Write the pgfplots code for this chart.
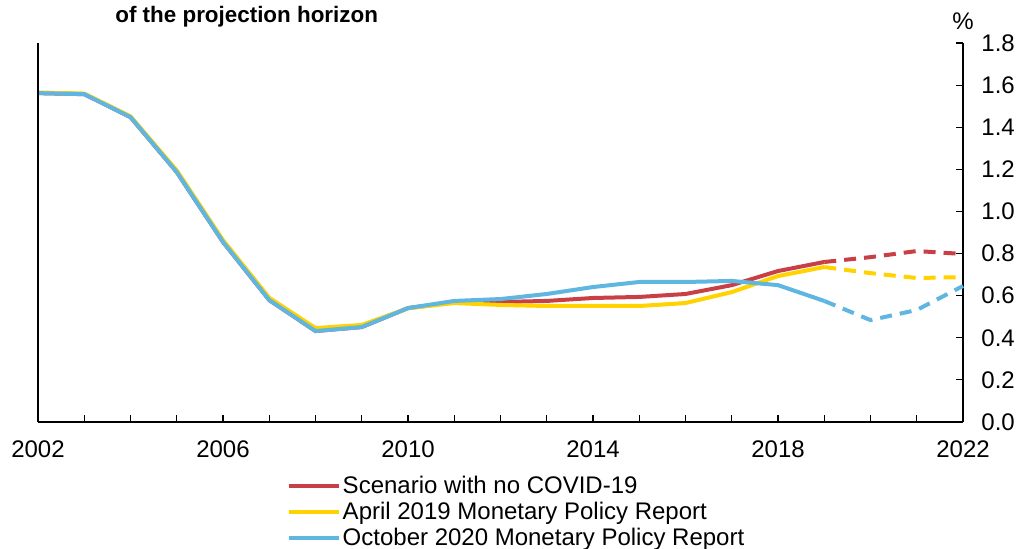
\documentclass[border=0pt]{standalone}
\usepackage{fontspec}
\setmainfont{Liberation Sans}
\usepackage{pgfplots}
\pgfplotsset{compat=1.18}
\definecolor{cred}{RGB}{200,64,70}
\definecolor{cyel}{RGB}{255,210,0}
\definecolor{cblue}{RGB}{95,182,224}

% solid part 2002-2019, dashed part 2019-2022
\pgfplotstableread{
year red yel blue
2002 1.562 1.565 1.562
2003 1.557 1.560 1.557
2004 1.448 1.452 1.448
2005 1.187 1.195 1.187
2006 0.855 0.864 0.855
2007 0.579 0.590 0.579
2008 0.432 0.446 0.432
2009 0.451 0.461 0.451
2010 0.541 0.540 0.541
2011 0.570 0.565 0.575
2012 0.570 0.556 0.584
2013 0.575 0.551 0.608
2014 0.589 0.551 0.641
2015 0.594 0.551 0.665
2016 0.608 0.565 0.665
2017 0.650 0.617 0.670
2018 0.717 0.693 0.650
2019 0.760 0.736 0.575
}\hist
\pgfplotstableread{
year red yel blue
2019 0.760 0.736 0.575
2020 0.783 0.707 0.484
2021 0.812 0.684 0.532
2022 0.798 0.688 0.646
}\proj

\begin{document}
\fontsize{12}{14}\selectfont
\begin{tikzpicture}
\path[use as bounding box] (-19pt,-63pt) rectangle (492.5pt,211pt);
\begin{axis}[
    at={(0,0)}, anchor=south west,
    scale only axis, width=462.5pt, height=189.5pt,
    xmin=2002, xmax=2022, ymin=0, ymax=1.8,
    axis x line*=bottom, axis y line*=right,
    axis line style={line width=0.8pt},
    tick align=inside, major tick length=3.5pt, minor tick length=3.5pt,
    tick style={black, line width=0.6pt},
    xtick={2002,2006,...,2022}, minor xtick={2003,...,2021},
    ytick={0,0.2,...,1.8},
    /pgf/number format/1000 sep={},
    /pgf/number format/assume math mode=true,
    yticklabel style={/pgf/number format/fixed, /pgf/number format/fixed zerofill, /pgf/number format/precision=1, xshift=5pt},
    xticklabel style={yshift=-5pt},
    tick label style={font=\fontsize{12}{14}\selectfont},
    legend style={at={(0.262,-0.125)}, anchor=north west, draw=none, fill=none,
        font=\fontsize{12}{14}\selectfont, row sep=0.5pt,
        nodes={inner sep=1pt}},
    legend cell align=left,
    legend image code/.code={\draw[#1, line width=2pt] (0pt,0pt) -- (25pt,0pt);},
    every axis plot/.append style={line width=2pt},
    clip=false,
]
\addplot[cred] table[x=year, y=red] {\hist};
\addplot[cyel] table[x=year, y=yel] {\hist};
\addplot[cblue] table[x=year, y=blue] {\hist};
\addplot[cred, dash pattern=on 6pt off 4pt, forget plot] table[x=year, y=red] {\proj};
\addplot[cyel, dash pattern=on 6pt off 4pt, forget plot] table[x=year, y=yel] {\proj};
\addplot[cblue, dash pattern=on 6pt off 4pt, forget plot] table[x=year, y=blue] {\proj};
\draw[line width=0.8pt] (rel axis cs:0,0) -- (rel axis cs:0,1);
\node[font=\fontsize{12}{14}\selectfont] at (rel axis cs:1,1.058) {\%};
\node[anchor=west, font=\bfseries\fontsize{11.2}{13}\selectfont] at (34.5pt,202.5pt) {of the projection horizon};
\legend{Scenario with no COVID-19, April 2019 Monetary Policy Report, October 2020 Monetary Policy Report}
\end{axis}
\end{tikzpicture}
\end{document}
